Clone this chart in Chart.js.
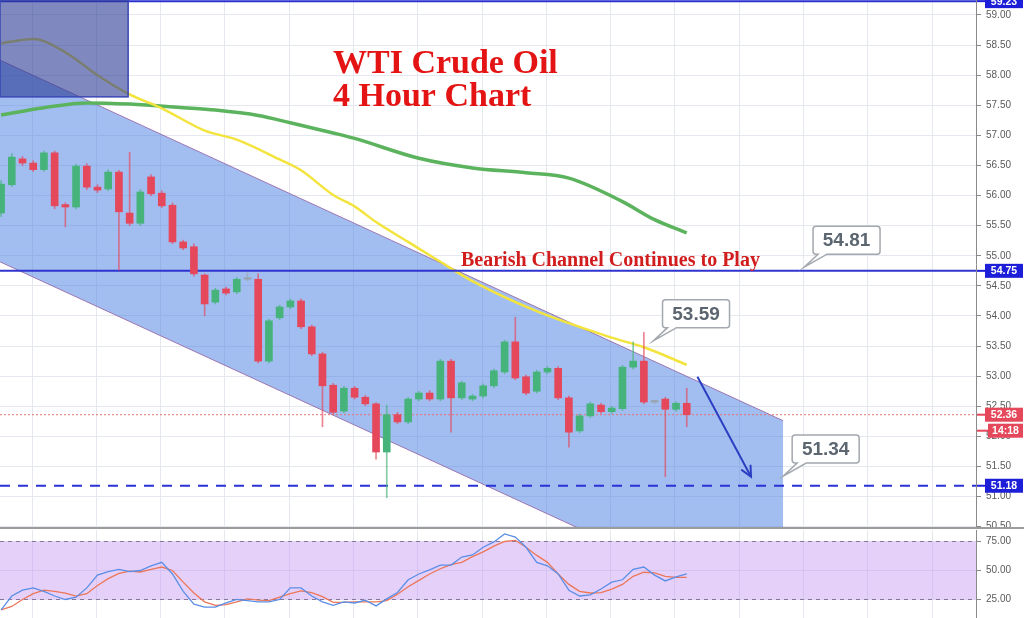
<!DOCTYPE html>
<html>
<head>
<meta charset="utf-8">
<title>WTI Crude Oil 4 Hour Chart</title>
<script src="https://cdn.jsdelivr.net/npm/chart.js@4.4.0/dist/chart.umd.min.js"></script>
<style>
  html, body { margin: 0; padding: 0; background: #fff; }
  #wrap { position: relative; width: 1024px; height: 618px; overflow: hidden; }
  #main { position: absolute; left: 0; top: 0; }
  #sep { position: absolute; left: 0; top: 527px; width: 1024px; height: 2px; background: #9c9c9c; }
  #osc { position: absolute; left: 0; top: 530px; }
</style>
</head>
<body>
<div id="wrap">
  <canvas id="main" width="1024" height="528"></canvas>
  <div id="sep"></div>
  <canvas id="osc" width="1024" height="88"></canvas>
</div>
<script>
// ---- data (one candle per 4h bar) ----
const candleOpen = [
  55.71, 56.18, 56.61, 56.54, 56.43, 56.71, 55.85, 55.81, 56.49, 56.14,
  56.11, 56.39, 55.71, 55.54, 56.31, 56.04, 55.84, 55.23, 55.15, 54.68,
  54.23, 54.45, 54.40, 54.61, 54.61, 53.25, 53.97, 54.15, 54.25, 53.82,
  53.37, 52.85, 52.42, 52.80, 52.65, 52.54, 51.74, 52.36, 52.24, 52.62,
  52.72, 52.62, 53.25, 52.64, 52.62, 52.67, 52.84, 53.07, 53.57, 52.99,
  52.75, 53.07, 53.13, 52.64, 52.09, 52.34, 52.52, 52.41, 52.46, 53.15,
  53.25, 52.57, 52.62, 52.45, 52.55
];
const candleClose = [
  56.19, 56.64, 56.54, 56.43, 56.71, 55.83, 55.81, 56.49, 56.14, 56.09,
  56.39, 55.73, 55.54, 56.06, 56.03, 55.83, 55.23, 55.13, 54.70, 54.20,
  54.43, 54.38, 54.61, 54.61, 53.25, 53.92, 54.15, 54.25, 53.82, 53.37,
  52.84, 52.40, 52.80, 52.65, 52.54, 51.74, 52.36, 52.24, 52.62, 52.72,
  52.62, 53.25, 52.64, 52.89, 52.67, 52.84, 53.09, 53.57, 52.97, 52.72,
  53.07, 53.13, 52.64, 52.07, 52.34, 52.54, 52.41, 52.47, 53.15, 53.25,
  52.57, 52.57, 52.45, 52.55, 52.36
];
const candleHigh = [
  56.25, 56.70, 56.65, 56.58, 56.74, 56.74, 55.88, 56.52, 56.53, 56.18,
  56.43, 56.42, 56.72, 56.10, 56.35, 56.08, 55.88, 55.26, 55.20, 54.70,
  54.46, 54.48, 54.64, 54.72, 54.70, 53.95, 54.18, 54.28, 54.28, 53.85,
  53.40, 52.88, 52.83, 52.83, 52.68, 52.56, 52.52, 52.40, 52.65, 52.75,
  52.76, 53.28, 53.28, 52.92, 52.70, 52.87, 53.12, 53.60, 53.98, 53.02,
  53.10, 53.16, 53.16, 52.67, 52.37, 52.57, 52.55, 52.50, 53.18, 53.57,
  53.73, 52.60, 52.65, 52.58, 52.80
];
const candleLow = [
  55.65, 56.15, 56.50, 56.40, 56.40, 55.78, 55.48, 55.78, 56.10, 56.05,
  56.08, 54.76, 55.50, 55.50, 56.00, 55.80, 55.20, 55.10, 54.66, 54.00,
  54.20, 54.35, 54.37, 54.58, 53.22, 53.22, 53.94, 54.12, 53.79, 53.34,
  52.16, 52.37, 52.39, 52.62, 52.51, 51.62, 50.98, 52.21, 52.21, 52.59,
  52.59, 52.59, 52.07, 52.61, 52.59, 52.64, 52.81, 53.04, 52.94, 52.69,
  52.72, 53.04, 52.61, 51.82, 52.06, 52.31, 52.38, 52.38, 52.43, 53.12,
  52.54, 52.54, 51.33, 52.42, 52.16
];

// moving averages (read points: candle index -> price)
const maFastIdx = [0, 3, 6, 9, 12, 15, 19, 22, 26, 28, 31, 33, 35, 38, 41, 44, 50, 57, 60, 64];
const maFastVal = [58.53, 58.60, 58.38, 58.00, 57.68, 57.45, 57.08, 56.93, 56.60, 56.42,
                   56.01, 55.82, 55.56, 55.23, 54.90, 54.58, 54.08, 53.64, 53.48, 53.19];
const maSlowIdx = [0, 4, 8, 12, 17, 20, 24, 27, 31, 33, 39, 44, 49, 53, 58, 61, 64];
const maSlowVal = [57.34, 57.46, 57.54, 57.52, 57.46, 57.42, 57.33, 57.21, 57.04, 56.95,
                   56.62, 56.46, 56.38, 56.29, 55.90, 55.60, 55.38];

// stochastic RSI
const stochK = [
  16, 28, 33, 35, 32, 28, 25, 27, 35, 46,
  49, 51, 49, 50, 54, 57, 47, 32, 21, 18.5,
  18.5, 22, 25, 24, 23, 23, 25, 35, 35, 28,
  23, 20, 23, 22, 24.5, 19.5, 25.5, 31, 42, 47,
  50.5, 54.7, 54.7, 61.6, 63.4, 70, 74.6, 81.5, 78.8, 70,
  57, 54, 47, 33, 28, 29, 34, 40, 42, 51,
  53, 46, 41, 44.5, 47
];
const stochD = [
  16, 19, 25, 30, 33, 32, 30.5, 28, 30, 37,
  43, 47.5, 49.5, 48.7, 51, 53, 50, 40, 30.6, 23,
  20, 20.5, 23, 25.5, 24.5, 24, 27, 30, 32.5, 31,
  27.5, 22.5, 22.5, 23, 23, 23, 24, 29.5, 36, 41.5,
  47, 51.5, 55, 57, 62, 66, 71, 75, 76, 70,
  63, 57, 47, 38, 32, 30.6, 31, 34, 38, 45,
  48.5, 48, 45, 44, 44
];
const stochBands = [75, 25];

// drawings
const channelX = [-0.1, 73.0];
const channelUpper = [58.25, 52.26];
const channelLower = [54.90, 48.91];
const resistanceLevels = [59.23, 54.75];
const supportLevel = 51.18;
const lastPrice = 52.36;
const barTimer = '14:18';
const arrowX = [65.0, 70.0];
const arrowY = [52.99, 51.33];
const calloutX = [60.9, 74.95, 73.0];
const calloutPrice = [53.59, 54.81, 51.34];
const shadeBoxX = [-0.1, 11.86];
const shadeBoxY = [57.64, 59.3];

// ---- axes ----
const X_MIN = -0.1, X_MAX = 91.0;
const P_MIN = 50.478, P_MAX = 59.249;
const OSC_MIN = 9.05, OSC_MAX = 84.9;
const AXIS_W = 48;

const UP = '#46b37b', DOWN = '#e5475b', FLAT = '#9aa3ad';
const GRID = '#e6e8ef';
const TICK_FONT = { family: "'Liberation Sans', Arial, sans-serif", size: 10 };

const idx = candleOpen.map((_, i) => i);
const candleColor = idx.map(i =>
  candleClose[i] > candleOpen[i] ? UP : (candleClose[i] < candleOpen[i] ? DOWN : FLAT));

function hLine(price) {
  return [{ x: X_MIN, y: price }, { x: X_MAX, y: price }];
}

// no extra room around the plot: the chart area fills the canvas
function noPad(s) {
  s.paddingTop = 0; s.paddingBottom = 0; s.paddingLeft = 0; s.paddingRight = 0;
}

function xScale() {
  return {
    type: 'linear', min: X_MIN, max: X_MAX, offset: false,
    grid: { color: GRID, drawTicks: false, offset: false },
    border: { display: false },
    ticks: { display: false },
    afterBuildTicks: (s) => {
      const t = [];
      for (let v = 2.9; v < X_MAX; v += 6) t.push({ value: v });
      s.ticks = t;
    },
    afterFit: (s) => { s.height = 0; noPad(s); }
  };
}

function tag(ctx, yPix, text, color, left, width) {
  ctx.fillStyle = color;
  ctx.fillRect(977, yPix - 1, left - 977, 2);
  ctx.fillRect(left, yPix - 7, width, 14);
  ctx.fillStyle = '#fff';
  ctx.font = "bold 10.5px 'Liberation Sans', Arial, sans-serif";
  ctx.textAlign = 'center';
  ctx.textBaseline = 'middle';
  ctx.fillText(text, left + width / 2, yPix + 0.5);
}

function callout(ctx, tx, ty, text) {
  const bx = tx + 9, by = ty - 41, bw = 67, bh = 28, r = 3;
  ctx.save();
  ctx.lineWidth = 1.5;
  ctx.strokeStyle = '#a3a8ae';
  ctx.fillStyle = '#fff';
  ctx.beginPath();
  ctx.moveTo(bx + r, by);
  ctx.lineTo(bx + bw - r, by);
  ctx.quadraticCurveTo(bx + bw, by, bx + bw, by + r);
  ctx.lineTo(bx + bw, by + bh - r);
  ctx.quadraticCurveTo(bx + bw, by + bh, bx + bw - r, by + bh);
  ctx.lineTo(bx + 14, by + bh);
  ctx.lineTo(tx, ty);
  ctx.lineTo(bx + 5, by + bh);
  ctx.lineTo(bx + r, by + bh);
  ctx.quadraticCurveTo(bx, by + bh, bx, by + bh - r);
  ctx.lineTo(bx, by + r);
  ctx.quadraticCurveTo(bx, by, bx + r, by);
  ctx.closePath();
  ctx.fill();
  ctx.stroke();
  ctx.fillStyle = '#5c6670';
  ctx.font = "bold 19px 'Liberation Sans', Arial, sans-serif";
  ctx.textAlign = 'center';
  ctx.textBaseline = 'middle';
  ctx.fillText(text, bx + bw / 2, by + bh / 2 + 1);
  ctx.restore();
}

const mainOverlay = {
  id: 'mainOverlay',
  afterDatasetsDraw(chart) {
    const { ctx, chartArea: a, scales: { x, y } } = chart;
    ctx.save();
    ctx.beginPath();
    ctx.rect(a.left, a.top, a.right - a.left, a.bottom - a.top);
    ctx.clip();

    // dark rectangle in the top-left corner
    const x0 = x.getPixelForValue(shadeBoxX[0]), x1 = x.getPixelForValue(shadeBoxX[1]);
    const y0 = y.getPixelForValue(shadeBoxY[1]), y1 = y.getPixelForValue(shadeBoxY[0]);
    ctx.fillStyle = 'rgba(42, 58, 148, 0.6)';
    ctx.fillRect(x0, y0, x1 - x0, y1 - y0);
    ctx.strokeStyle = '#3b47b5';
    ctx.lineWidth = 1.5;
    ctx.strokeRect(x0, y0, x1 - x0, y1 - y0);

    // arrow head
    const px0 = x.getPixelForValue(arrowX[0]), py0 = y.getPixelForValue(arrowY[0]);
    const px1 = x.getPixelForValue(arrowX[1]), py1 = y.getPixelForValue(arrowY[1]);
    const ang = Math.atan2(py1 - py0, px1 - px0);
    ctx.strokeStyle = '#2b3fc2';
    ctx.lineWidth = 2;
    ctx.beginPath();
    ctx.moveTo(px1 - 12 * Math.cos(ang - 0.45), py1 - 12 * Math.sin(ang - 0.45));
    ctx.lineTo(px1, py1);
    ctx.lineTo(px1 - 12 * Math.cos(ang + 0.45), py1 - 12 * Math.sin(ang + 0.45));
    ctx.stroke();
    ctx.restore();
  },
  afterDraw(chart) {
    const { ctx, scales: { x, y } } = chart;
    ctx.save();

    // titles
    ctx.textAlign = 'left';
    ctx.textBaseline = 'alphabetic';
    ctx.fillStyle = '#e41414';
    ctx.font = "bold 34px 'Liberation Serif', 'Times New Roman', serif";
    ctx.fillText('WTI Crude Oil', 333, 73);
    ctx.fillText('4 Hour Chart', 333, 106);
    ctx.fillStyle = '#d11d1d';
    ctx.font = "bold 20px 'Liberation Serif', 'Times New Roman', serif";
    ctx.fillText('Bearish Channel Continues to Play', 461, 266);

    // price callouts
    calloutX.forEach((cx, i) => {
      callout(ctx, x.getPixelForValue(cx), y.getPixelForValue(calloutPrice[i]),
        calloutPrice[i].toFixed(2));
    });

    // axis price tags
    resistanceLevels.forEach(p => tag(ctx, y.getPixelForValue(p), p.toFixed(2), '#1d1fd8', 985, 38));
    tag(ctx, y.getPixelForValue(supportLevel), supportLevel.toFixed(2), '#1d1fd8', 985, 38);
    const ly = y.getPixelForValue(lastPrice);
    tag(ctx, ly, lastPrice.toFixed(2), '#e5475b', 985, 38);
    tag(ctx, ly + 16, barTimer, '#e5475b', 988, 35);
    ctx.restore();
  }
};

new Chart(document.getElementById('main'), {
  type: 'bar',
  data: {
    datasets: [
      {
        type: 'bar', label: 'body', order: 1, grouped: false,
        data: idx.map(i => ({ x: i, y: [candleOpen[i], candleClose[i]] })),
        backgroundColor: candleColor, barThickness: 7, minBarLength: 1.5
      },
      {
        type: 'bar', label: 'wick', order: 2, grouped: false,
        data: idx.map(i => ({ x: i, y: [candleLow[i], candleHigh[i]] })),
        backgroundColor: candleColor.map(c => c + 'aa'), barThickness: 1
      },
      {
        type: 'line', label: 'arrow', order: 0,
        data: arrowX.map((v, i) => ({ x: v, y: arrowY[i] })),
        borderColor: '#2b3fc2', borderWidth: 2, pointRadius: 0
      },
      {
        type: 'line', label: 'top', order: 3, data: hLine(resistanceLevels[0]),
        borderColor: '#2a2fd0', borderWidth: 2, pointRadius: 0
      },
      {
        type: 'line', label: 'resistance', order: 3, data: hLine(resistanceLevels[1]),
        borderColor: '#2f34cf', borderWidth: 2, pointRadius: 0
      },
      {
        type: 'line', label: 'support', order: 3, data: hLine(supportLevel),
        borderColor: '#2a32d6', borderWidth: 2, borderDash: [10, 8], pointRadius: 0
      },
      {
        type: 'line', label: 'last', order: 3, data: hLine(lastPrice),
        borderColor: '#e57373', borderWidth: 1, borderDash: [2, 2], pointRadius: 0
      },
      {
        type: 'line', label: 'ma fast', order: 4,
        data: maFastIdx.map((v, i) => ({ x: v, y: maFastVal[i] })),
        borderColor: '#f3e43d', borderWidth: 2.5, pointRadius: 0, cubicInterpolationMode: 'monotone'
      },
      {
        type: 'line', label: 'ma slow', order: 4,
        data: maSlowIdx.map((v, i) => ({ x: v, y: maSlowVal[i] })),
        borderColor: '#5cb35e', borderWidth: 3.5, pointRadius: 0, cubicInterpolationMode: 'monotone'
      },
      {
        type: 'line', label: 'channel top', order: 6,
        data: channelX.map((v, i) => ({ x: v, y: channelUpper[i] })),
        borderColor: 'rgba(150, 105, 170, 0.9)', borderWidth: 1, pointRadius: 0, fill: false
      },
      {
        type: 'line', label: 'channel bottom', order: 7,
        data: channelX.map((v, i) => ({ x: v, y: channelLower[i] })),
        borderColor: 'rgba(150, 105, 170, 0.9)', borderWidth: 1, pointRadius: 0,
        fill: '-1', backgroundColor: 'rgba(60, 120, 225, 0.48)'
      }
    ]
  },
  options: {
    responsive: false,
    animation: false,
    events: [],
    layout: { padding: 0 },
    plugins: { legend: { display: false }, tooltip: { enabled: false } },
    scales: {
      x: xScale(),
      y: {
        position: 'right', min: P_MIN, max: P_MAX,
        grid: { color: GRID, tickLength: 5, tickColor: '#8a8a8a' },
        border: { color: '#8a8a8a' },
        ticks: {
          stepSize: 0.5, includeBounds: false, color: '#5a5a5a', font: TICK_FONT,
          padding: 5, autoSkip: false, callback: (v) => v.toFixed(2)
        },
        afterFit: (s) => { s.width = AXIS_W; noPad(s); }
      }
    }
  },
  plugins: [mainOverlay]
});

new Chart(document.getElementById('osc'), {
  type: 'line',
  data: {
    datasets: [
      {
        label: '%K', order: 0, data: idx.map(i => ({ x: i, y: stochK[i] })),
        borderColor: '#5b8ee6', borderWidth: 1.3, pointRadius: 0
      },
      {
        label: '%D', order: 1, data: idx.map(i => ({ x: i, y: stochD[i] })),
        borderColor: '#ec7658', borderWidth: 1.3, pointRadius: 0
      },
      {
        label: 'upper band', order: 2, data: hLine(stochBands[0]),
        borderColor: '#85769a', borderWidth: 1, borderDash: [4, 4], pointRadius: 0
      },
      {
        label: 'lower band', order: 3, data: hLine(stochBands[1]),
        borderColor: '#85769a', borderWidth: 1, borderDash: [4, 4], pointRadius: 0,
        fill: '-1', backgroundColor: 'rgba(198, 150, 245, 0.45)'
      }
    ]
  },
  options: {
    responsive: false,
    animation: false,
    events: [],
    layout: { padding: 0 },
    plugins: { legend: { display: false }, tooltip: { enabled: false } },
    scales: {
      x: xScale(),
      y: {
        position: 'right', min: OSC_MIN, max: OSC_MAX,
        grid: { color: GRID, tickLength: 5, tickColor: '#8a8a8a' },
        border: { color: '#8a8a8a' },
        ticks: { color: '#5a5a5a', font: TICK_FONT, padding: 5, callback: (v) => v.toFixed(2) },
        afterBuildTicks: (s) => { s.ticks = [25, 50, 75].map(v => ({ value: v })); },
        afterFit: (s) => { s.width = AXIS_W; noPad(s); }
      }
    }
  }
});
</script>
</body>
</html>
